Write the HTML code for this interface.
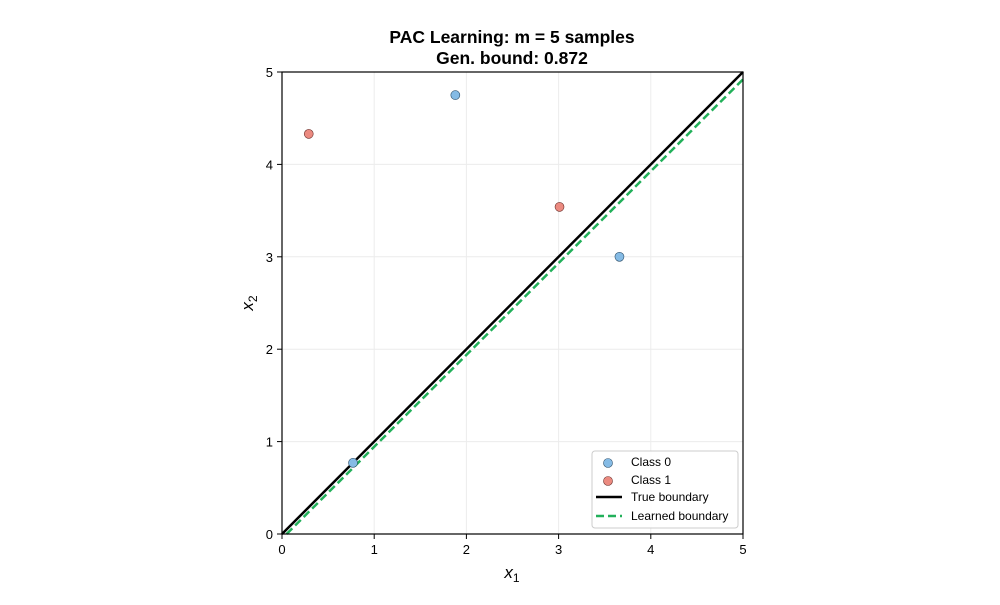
<!DOCTYPE html>
<html><head><meta charset="utf-8"><style>
body{margin:0;background:#fff;}
svg text{font-family:"Liberation Sans",Arial,sans-serif;}
</style></head><body>
<svg id="chart" width="1000" height="600">
<rect width="1000" height="600" fill="#fff"/>
<text x="512" y="43" text-anchor="middle" font-size="17.5" font-weight="bold">PAC Learning: m = 5 samples</text>
<text x="512" y="64" text-anchor="middle" font-size="17.5" font-weight="bold">Gen. bound: 0.872</text>
<g id="grid"></g><g id="ticks"></g><g id="lines"></g><g id="pts"></g>
<rect x="282" y="72" width="461" height="462" fill="none" stroke="#000" stroke-width="1.2"/>
<text x="512" y="578" text-anchor="middle" font-size="17" font-style="italic">x<tspan font-size="12" dy="4" font-style="normal">1</tspan></text>
<text transform="translate(253,303) rotate(-90)" text-anchor="middle" font-size="17" font-style="italic">x<tspan font-size="12" dy="4" font-style="normal">2</tspan></text>
<g>
<rect x="592" y="451" width="146" height="77" rx="3" fill="#fff" fill-opacity="0.9" stroke="#ccc"/>
<circle cx="608" cy="463" r="4.5" fill="#85bbe5" stroke="#2d4f6a" stroke-width="0.6"/>
<text x="631" y="466" font-size="12">Class 0</text>
<circle cx="608" cy="481" r="4.5" fill="#eb8a80" stroke="#6a2d28" stroke-width="0.6"/>
<text x="631" y="484" font-size="12">Class 1</text>
<line x1="596" y1="497" x2="622" y2="497" stroke="#000" stroke-width="2.5"/>
<text x="631" y="501" font-size="12">True boundary</text>
<line x1="596" y1="516" x2="622" y2="516" stroke="#22b05a" stroke-width="2.5" stroke-dasharray="8,4"/>
<text x="631" y="520" font-size="12">Learned boundary</text>
</g>
</svg>
<script>
const ticks=[0,1,2,3,4,5];
const class0X=[1.88,3.66,0.77];
const class0Y=[4.75,3.0,0.77];
const class1X=[0.29,3.01];
const class1Y=[4.33,3.54];
const trueLine=[[0,0],[5,5]];
const learnedLine=[[0.05,0],[5,4.92]];
const X=v=>282+v*461/5, Y=v=>534-v*462/5;
const NS='http://www.w3.org/2000/svg';
function mk(p,t,a){const e=document.createElementNS(NS,t);for(const k in a)e.setAttribute(k,a[k]);document.getElementById(p).appendChild(e);return e;}
ticks.forEach(t=>{
 let g=mk('grid','line',{x1:X(t),x2:X(t),y1:72,y2:534,stroke:'#ececec'});
 
 
 g=mk('grid','line',{x1:282,x2:743,y1:Y(t),y2:Y(t),stroke:'#ececec'});
 
 
 mk('ticks','line',{x1:X(t),x2:X(t),y1:534,y2:539,stroke:'#000'});
 mk('ticks','line',{x1:277,x2:282,y1:Y(t),y2:Y(t),stroke:'#000'});
 let e=mk('ticks','text',{x:X(t),y:554,'text-anchor':'middle','font-size':13});e.textContent=t;
 
 
 e=mk('ticks','text',{x:273,y:Y(t)+5,'text-anchor':'end','font-size':13});e.textContent=t;
 
 
});
let l=mk('lines','line',{x1:X(trueLine[0][0]),y1:Y(trueLine[0][1]),x2:X(trueLine[1][0]),y2:Y(trueLine[1][1]),stroke:'#000','stroke-width':2.5});


l=mk('lines','line',{x1:X(learnedLine[0][0]),y1:Y(learnedLine[0][1]),x2:X(learnedLine[1][0]),y2:Y(learnedLine[1][1]),stroke:'#22b05a','stroke-width':2.5,'stroke-dasharray':'8,4'});


class0X.forEach((x,i)=>{const c=mk('pts','circle',{cx:X(x),cy:Y(class0Y[i]),r:4.5,fill:'#85bbe5',stroke:'#2d4f6a','stroke-width':0.6});
 
 });
class1X.forEach((x,i)=>{const c=mk('pts','circle',{cx:X(x),cy:Y(class1Y[i]),r:4.5,fill:'#eb8a80',stroke:'#6a2d28','stroke-width':0.6});
 
 });
</script>
</body></html>
